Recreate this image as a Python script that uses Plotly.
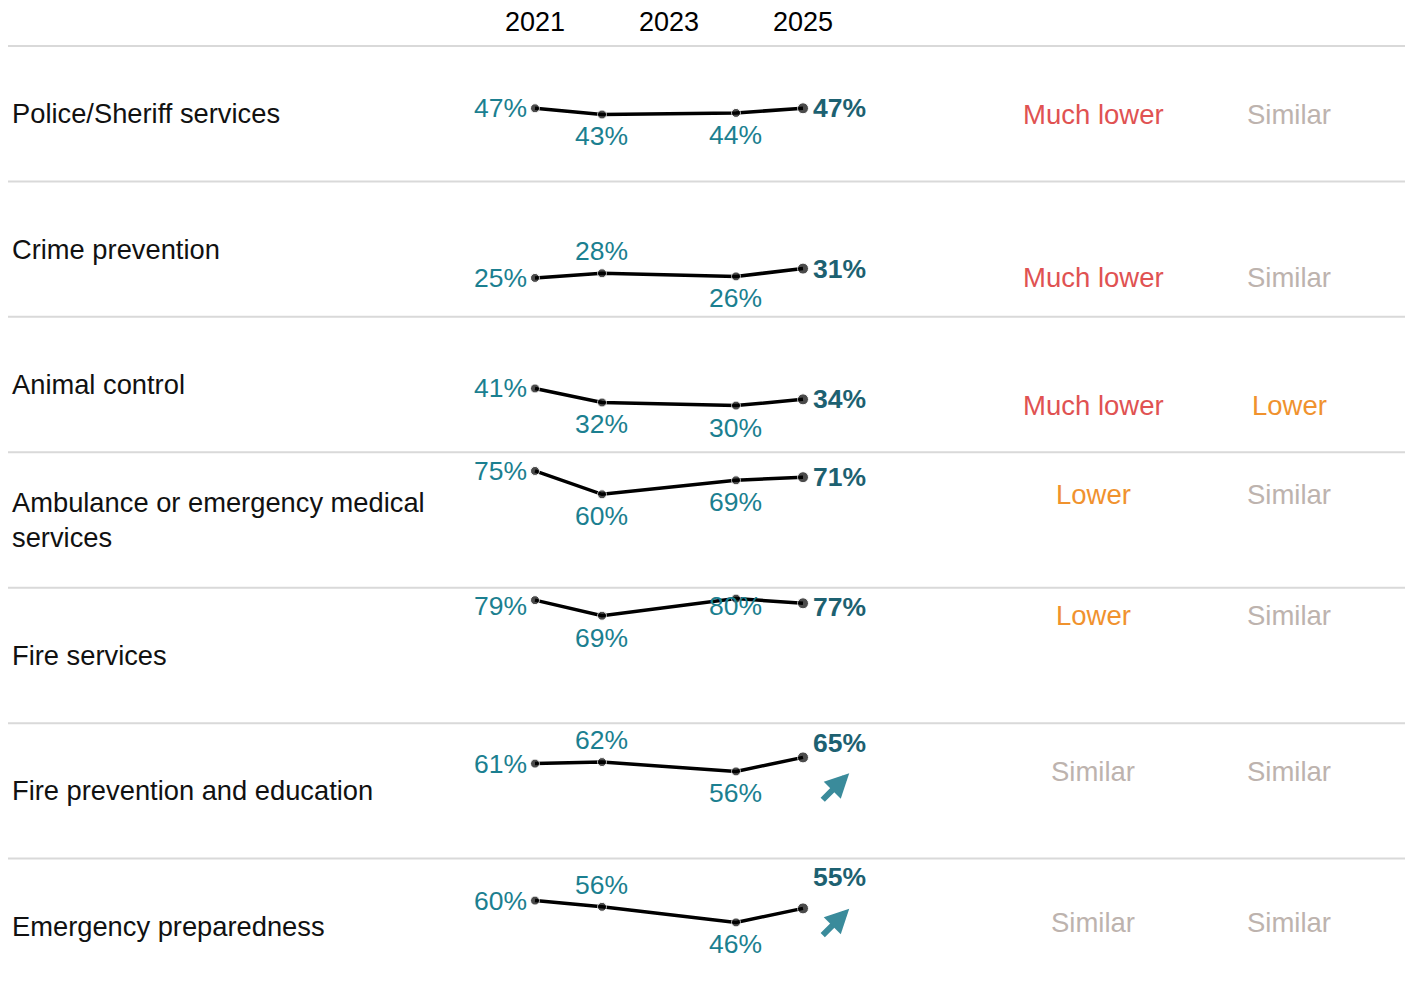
import plotly.graph_objects as go
from plotly.subplots import make_subplots

# data
services = ["Police/Sheriff services", "Crime prevention", "Animal control",
            "Ambulance or emergency medical<br>services", "Fire services",
            "Fire prevention and education", "Emergency preparedness"]
years = [2021, 2022, 2024, 2025]
header_years = [2021, 2023, 2025]
police = [47, 43, 44, 47]
crime = [25, 28, 26, 31]
animal = [41, 32, 30, 34]
ambulance = [75, 60, 69, 71]
fire = [79, 69, 80, 77]
fire_prev = [61, 62, 56, 65]
emergency = [60, 56, 46, 55]
series = [police, crime, animal, ambulance, fire, fire_prev, emergency]
benchmark_1 = ["Much lower", "Much lower", "Much lower", "Lower", "Lower", "Similar", "Similar"]
benchmark_2 = ["Similar", "Similar", "Lower", "Similar", "Similar", "Similar", "Similar"]
trend = [None, None, None, None, None, "up", "up"]

# label placement (layout only)
label_pos = [["l", "b", "b", "r"], ["l", "a", "b", "r"], ["l", "b", "b", "r"],
             ["l", "b", "b", "r"], ["l", "b", "c", "r"], ["l", "a", "b", "r"],
             ["l", "a", "b", "r"]]
label_extra = [[0, 0, 0, 0], [0, 0, 0, 0], [0, 0, 0, 0], [0, 0, 0, 0],
               [-6, 0, -7, -4], [0, 0, 0, 14], [0, 0, 0, 31]]

OFF = 8  # page body margin
W, H = 1413 - OFF, 994 - OFF
FONT = "Arial, Liberation Sans, sans-serif"
TEAL = "#1b7f90"
TEAL_DARK = "#1d6171"
ARROW = "#3a8b9b"
cat_colors = {"Much lower": "#e05252", "Lower": "#f0922e", "Similar": "#bdb3ae"}


def px(x):
    return (x - OFF) / W


n = len(services)
fig = make_subplots(rows=n, cols=1, vertical_spacing=0, shared_xaxes=True)

ann = []
for i, vals in enumerate(series):
    r = i + 1
    fig.add_trace(go.Scatter(x=years, y=vals, mode="lines+markers",
                             line=dict(color="black", width=3.5),
                             marker=dict(color="black", size=[9, 9, 9, 11]),
                             hoverinfo="skip", showlegend=False), row=r, col=1)
    xr = "x" if r == 1 else f"x{r}"
    yr = "y" if r == 1 else f"y{r}"
    for j, (yv, v) in enumerate(zip(years, vals)):
        p = label_pos[i][j]
        a = dict(x=yv, y=v, xref=xr, yref=yr, text=f"{v}%", showarrow=False,
                 font=dict(family=FONT, size=26.5, color=TEAL), yanchor="middle")
        if p == "l":
            a.update(xanchor="right", xshift=-6, yshift=label_extra[i][j])
        elif p == "r":
            a.update(xanchor="left", xshift=8, yshift=label_extra[i][j],
                     text=f"<b>{v}%</b>", font=dict(family=FONT, size=26.5, color=TEAL_DARK))
        elif p == "a":
            a.update(xanchor="center", xshift=-1, yshift=22 + label_extra[i][j])
        elif p == "b":
            a.update(xanchor="center", xshift=-1, yshift=-22 + label_extra[i][j])
        else:
            a.update(xanchor="center", xshift=-1, yshift=label_extra[i][j])
        ann.append(a)
    # row label
    ann.append(dict(x=px(10), xref="paper", y=0.5, yref=f"{yr} domain", text=services[i],
                    xanchor="left", yanchor="middle", align="left", showarrow=False,
                    font=dict(family=FONT, size=27.3, color="#111111")))
    # comparison columns, placed at the row minimum
    for cx, txt in [(1093, benchmark_1[i]), (1289, benchmark_2[i])]:
        ann.append(dict(x=px(cx), xref="paper", y=min(vals), yref=yr, text=txt,
                        xanchor="center", yanchor="middle", showarrow=False,
                        font=dict(family=FONT, size=27.5, color=cat_colors[txt])))
    if trend[i] == "up":
        ann.append(dict(x=2025.69, xref=xr, y=0.63, yref=f"{yr} domain", text="",
                        showarrow=True, ax=-28, ay=28, arrowhead=2, arrowsize=0.8,
                        arrowwidth=6, arrowcolor=ARROW))
    fig.update_yaxes(range=[0, 87], visible=False, row=r, col=1)

for y in header_years:
    ann.append(dict(x=y, xref="x", y=1, yref="paper", yshift=24, text=str(y),
                    showarrow=False, xanchor="center", yanchor="middle",
                    font=dict(family=FONT, size=27, color="black")))

shapes = []
for k in range(n):
    yy = 1 - k / n
    shapes.append(dict(type="line", xref="paper", yref="paper", x0=0, x1=px(1408),
                       y0=yy, y1=yy, line=dict(color="#d9d9d9", width=2), layer="below"))

fig.update_xaxes(range=[2021 - (535 - OFF) / 67, 2025 + (OFF + W - 803) / 67], visible=False)
fig.update_layout(width=W, height=H, margin=dict(l=0, r=0, t=46 - OFF, b=0),
                  plot_bgcolor="white", paper_bgcolor="white",
                  annotations=ann, shapes=shapes)
fig.write_html("out.html")
